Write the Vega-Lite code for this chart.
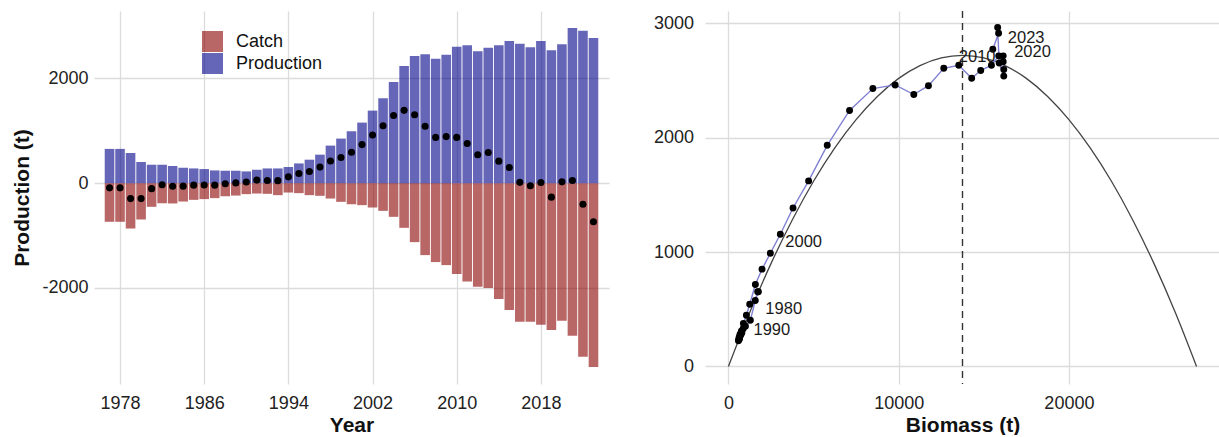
{
  "$schema": "https://vega.github.io/schema/vega-lite/v6.json",
  "background": "white",
  "padding": {"left": 11, "top": 10, "right": 0, "bottom": 0},
  "spacing": 44,
  "config": {
    "view": {"stroke": null},
    "font": "Liberation Sans",
    "axis": {
      "grid": true,
      "gridColor": "#dcdcdc",
      "gridWidth": 1.3,
      "domain": false,
      "ticks": false,
      "labelFont": "Liberation Sans",
      "labelFontSize": 18,
      "labelColor": "#222222",
      "titleFont": "Liberation Sans",
      "titleFontSize": 21,
      "titleFontWeight": "bold",
      "titleColor": "#111111"
    }
  },
  "datasets": {
    "fishery": [
      {"year": 1977, "Production": 654, "Catch": -738, "net": -90, "biomass": 1760},
      {"year": 1978, "Production": 654, "Catch": -738, "net": -90, "biomass": 1720},
      {"year": 1979, "Production": 577, "Catch": -866, "net": -295, "biomass": 1580},
      {"year": 1980, "Production": 404, "Catch": -694, "net": -295, "biomass": 1290},
      {"year": 1981, "Production": 352, "Catch": -452, "net": -105, "biomass": 1000},
      {"year": 1982, "Production": 352, "Catch": -382, "net": -30, "biomass": 920},
      {"year": 1983, "Production": 327, "Catch": -388, "net": -60, "biomass": 860},
      {"year": 1984, "Production": 294, "Catch": -351, "net": -57, "biomass": 790},
      {"year": 1985, "Production": 281, "Catch": -319, "net": -38, "biomass": 740},
      {"year": 1986, "Production": 269, "Catch": -305, "net": -34, "biomass": 700},
      {"year": 1987, "Production": 243, "Catch": -286, "net": -38, "biomass": 650},
      {"year": 1988, "Production": 237, "Catch": -248, "net": -10, "biomass": 620},
      {"year": 1989, "Production": 237, "Catch": -237, "net": 5, "biomass": 610},
      {"year": 1990, "Production": 224, "Catch": -210, "net": 22, "biomass": 590},
      {"year": 1991, "Production": 256, "Catch": -198, "net": 58, "biomass": 630},
      {"year": 1992, "Production": 281, "Catch": -204, "net": 50, "biomass": 680},
      {"year": 1993, "Production": 281, "Catch": -229, "net": 48, "biomass": 710},
      {"year": 1994, "Production": 308, "Catch": -179, "net": 120, "biomass": 760},
      {"year": 1995, "Production": 377, "Catch": -191, "net": 184, "biomass": 880},
      {"year": 1996, "Production": 448, "Catch": -229, "net": 224, "biomass": 1056},
      {"year": 1997, "Production": 544, "Catch": -242, "net": 306, "biomass": 1251},
      {"year": 1998, "Production": 717, "Catch": -294, "net": 422, "biomass": 1584},
      {"year": 1999, "Production": 851, "Catch": -357, "net": 490, "biomass": 1975},
      {"year": 2000, "Production": 990, "Catch": -401, "net": 589, "biomass": 2463},
      {"year": 2001, "Production": 1156, "Catch": -420, "net": 736, "biomass": 3050},
      {"year": 2002, "Production": 1385, "Catch": -465, "net": 918, "biomass": 3795},
      {"year": 2003, "Production": 1622, "Catch": -529, "net": 1096, "biomass": 4711},
      {"year": 2004, "Production": 1933, "Catch": -643, "net": 1290, "biomass": 5806},
      {"year": 2005, "Production": 2238, "Catch": -853, "net": 1390, "biomass": 7116},
      {"year": 2006, "Production": 2429, "Catch": -1126, "net": 1306, "biomass": 8485},
      {"year": 2007, "Production": 2461, "Catch": -1374, "net": 1087, "biomass": 9795},
      {"year": 2008, "Production": 2377, "Catch": -1507, "net": 874, "biomass": 10890},
      {"year": 2009, "Production": 2454, "Catch": -1565, "net": 889, "biomass": 11750},
      {"year": 2010, "Production": 2606, "Catch": -1736, "net": 874, "biomass": 12650},
      {"year": 2011, "Production": 2633, "Catch": -1877, "net": 756, "biomass": 13530},
      {"year": 2012, "Production": 2519, "Catch": -1979, "net": 543, "biomass": 14290},
      {"year": 2013, "Production": 2587, "Catch": -2003, "net": 584, "biomass": 14820},
      {"year": 2014, "Production": 2633, "Catch": -2213, "net": 420, "biomass": 15450},
      {"year": 2015, "Production": 2715, "Catch": -2423, "net": 300, "biomass": 15880},
      {"year": 2016, "Production": 2664, "Catch": -2646, "net": 15, "biomass": 16140},
      {"year": 2017, "Production": 2595, "Catch": -2646, "net": -51, "biomass": 16175},
      {"year": 2018, "Production": 2715, "Catch": -2704, "net": 11, "biomass": 16140},
      {"year": 2019, "Production": 2538, "Catch": -2805, "net": -267, "biomass": 16175},
      {"year": 2020, "Production": 2652, "Catch": -2627, "net": 25, "biomass": 15905},
      {"year": 2021, "Production": 2963, "Catch": -2913, "net": 50, "biomass": 15815},
      {"year": 2022, "Production": 2912, "Catch": -3314, "net": -402, "biomass": 15870},
      {"year": 2023, "Production": 2772, "Catch": -3511, "net": -736, "biomass": 15530}
    ],
    "surplus": [
      {"biomass": 0, "production": 0},
      {"biomass": 1250, "production": 472},
      {"biomass": 2500, "production": 899},
      {"biomass": 3750, "production": 1281},
      {"biomass": 5000, "production": 1619},
      {"biomass": 6250, "production": 1911},
      {"biomass": 7500, "production": 2158},
      {"biomass": 8750, "production": 2360},
      {"biomass": 10000, "production": 2518},
      {"biomass": 11250, "production": 2630},
      {"biomass": 12500, "production": 2698},
      {"biomass": 13750, "production": 2720},
      {"biomass": 15000, "production": 2698},
      {"biomass": 16250, "production": 2630},
      {"biomass": 17500, "production": 2518},
      {"biomass": 18750, "production": 2360},
      {"biomass": 20000, "production": 2158},
      {"biomass": 21250, "production": 1911},
      {"biomass": 22500, "production": 1619},
      {"biomass": 23750, "production": 1281},
      {"biomass": 25000, "production": 899},
      {"biomass": 26250, "production": 472},
      {"biomass": 27500, "production": 0}
    ],
    "bmsy": [{"biomass": 13750}]
  },
  "hconcat": [
    {
      "width": 515,
      "height": 373,
      "data": {"name": "fishery"},
      "layer": [
        {
          "transform": [{"fold": ["Catch", "Production"], "as": ["component", "tonnes"]}],
          "mark": {"type": "bar", "size": 9.6, "opacity": 0.6},
          "encoding": {
            "x": {
              "field": "year", "type": "quantitative",
              "scale": {"domain": [1976, 2024], "nice": false, "zero": false},
              "axis": {"values": [1978, 1986, 1994, 2002, 2010, 2018], "format": "d", "title": "Year", "labelPadding": 10, "titlePadding": 2}
            },
            "y": {
              "field": "tonnes", "type": "quantitative", "stack": null,
              "scale": {"domain": [-3835, 3287], "nice": false},
              "axis": {"values": [-2000, 0, 2000], "labelExpr": "'' + datum.value", "title": "Production (t)", "labelPadding": 6, "titlePadding": 9}
            },
            "color": {
              "field": "component", "type": "nominal",
              "scale": {"domain": ["Catch", "Production"], "range": ["darkred", "darkblue"]},
              "legend": {
                "orient": "none", "legendX": 108, "legendY": 20, "title": null,
                "symbolType": "square", "symbolSize": 441, "symbolOpacity": 0.6, "symbolStrokeWidth": 0,
                "labelFont": "Liberation Sans", "labelFontSize": 18, "labelColor": "#111111",
                "labelOffset": 13, "rowPadding": 1, "padding": 0
              }
            }
          }
        },
        {
          "mark": {"type": "circle", "size": 50, "color": "black", "opacity": 1},
          "encoding": {
            "x": {"field": "year", "type": "quantitative"},
            "y": {"field": "net", "type": "quantitative"}
          }
        }
      ]
    },
    {
      "width": 515,
      "height": 373,
      "layer": [
        {
          "data": {"name": "surplus"},
          "mark": {"type": "line", "interpolate": "monotone", "color": "#444444", "strokeWidth": 1.3},
          "encoding": {
            "x": {
              "field": "biomass", "type": "quantitative",
              "scale": {"domain": [-1375, 28875], "nice": false, "zero": false},
              "axis": {"values": [0, 10000, 20000], "format": "d", "title": "Biomass (t)", "labelPadding": 10, "titlePadding": 2}
            },
            "y": {
              "field": "production", "type": "quantitative",
              "scale": {"domain": [-153, 3107], "nice": false},
              "axis": {"values": [0, 1000, 2000, 3000], "format": "d", "title": null, "labelPadding": 11.5}
            }
          }
        },
        {
          "data": {"name": "bmsy"},
          "mark": {"type": "rule", "color": "#333333", "strokeWidth": 1.4, "strokeDash": [7, 5]},
          "encoding": {"x": {"field": "biomass", "type": "quantitative"}}
        },
        {
          "data": {"name": "fishery"},
          "mark": {"type": "line", "color": "#8080d4", "strokeWidth": 1.4},
          "encoding": {
            "x": {"field": "biomass", "type": "quantitative"},
            "y": {"field": "Production", "type": "quantitative"},
            "order": {"field": "year", "type": "quantitative"}
          }
        },
        {
          "data": {"name": "fishery"},
          "mark": {"type": "circle", "size": 48, "color": "black", "opacity": 1},
          "encoding": {
            "x": {"field": "biomass", "type": "quantitative"},
            "y": {"field": "Production", "type": "quantitative"}
          }
        },
        {
          "data": {"name": "fishery"},
          "transform": [{"filter": {"field": "year", "oneOf": [1980, 1990, 2000, 2010, 2020, 2023]}}],
          "mark": {"type": "text", "align": "left", "baseline": "middle", "dx": 15, "dy": -11, "fontSize": 16.5, "font": "Liberation Sans", "color": "#1a1a1a"},
          "encoding": {
            "x": {"field": "biomass", "type": "quantitative"},
            "y": {"field": "Production", "type": "quantitative"},
            "text": {"field": "year", "type": "nominal"}
          }
        }
      ]
    }
  ]
}
